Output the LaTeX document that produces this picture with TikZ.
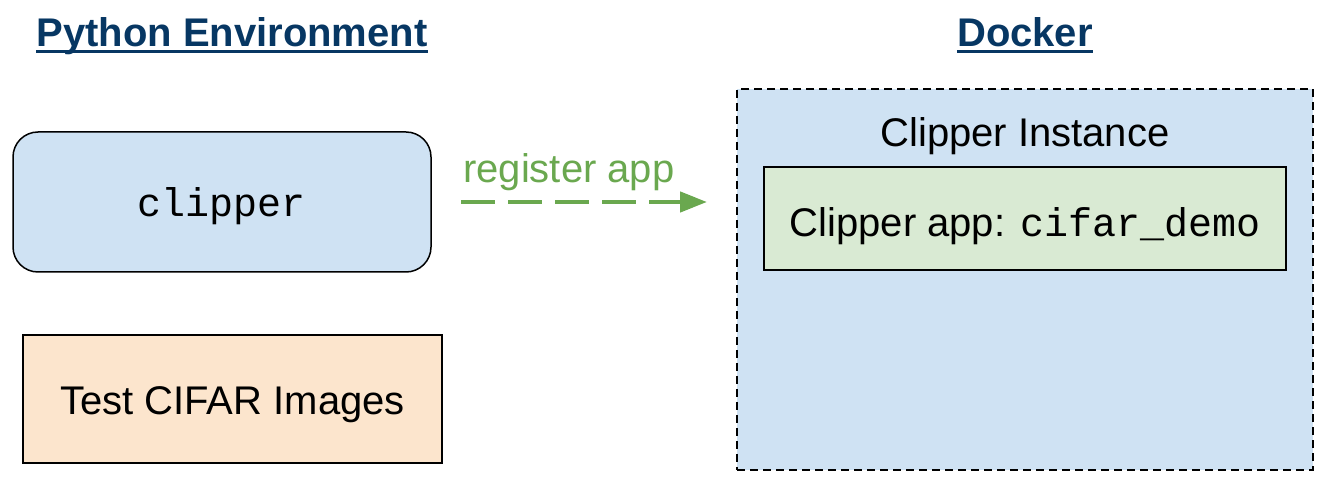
\documentclass[tikz,border=0pt]{standalone}
\usepackage{fontspec}
\setmainfont{Liberation Sans}
\setmonofont{Liberation Mono}
\usepackage{tikz}
\usetikzlibrary{arrows.meta}

\definecolor{titleblue}{HTML}{073763}
\definecolor{regreen}{HTML}{6AA84F}
\definecolor{boxblue}{HTML}{CFE2F3}
\definecolor{boxorange}{HTML}{FCE5CD}
\definecolor{boxgreen}{HTML}{D9EAD3}

\tikzset{
    bigtext/.style={font=\fontsize{40}{48}\selectfont},
    title/.style={bigtext, font=\fontsize{40}{48}\selectfont\bfseries, text=titleblue, inner sep=0pt},
    titleline/.style={draw=titleblue, line width=3pt},
    envbox/.style={bigtext, draw=black, line width=1.5pt, inner sep=0pt, text height=30pt, text depth=0pt},
    regarrow/.style={draw=regreen, line width=4.5pt, dash pattern=on 34pt off 13pt,
        -{Triangle[length=27pt, width=20pt]}},
}

\begin{document}
\begin{tikzpicture}[x=1pt, y=-1pt]
    \useasboundingbox (0,0) rectangle (1336,502);

    % Titles
    \node[title, anchor=base] (pytitle) at (232,47) {Python Environment};
    \node[title, anchor=base] (docktitle) at (1025,47) {Docker};
    \draw[titleline] ([yshift=-5pt]pytitle.base west) -- ([yshift=-5pt]pytitle.base east);
    \draw[titleline] ([yshift=-5pt]docktitle.base west) -- ([yshift=-5pt]docktitle.base east);

    % Python side
    \node[envbox, fill=boxblue, rounded corners=25pt, minimum width=418pt, minimum height=140pt]
        (clipbox) at (222,202) {\texttt{clipper}};
    \node[envbox, fill=boxorange, minimum width=419pt, minimum height=128pt]
        (imgbox) at (232.5,399) {Test CIFAR Images};

    % Docker side
    \node[draw=black, fill=boxblue, line width=2pt, dash pattern=on 8pt off 5pt,
        minimum width=576pt, minimum height=381pt] (dockbox) at (1025,279.5) {};
    \node[bigtext, anchor=base, inner sep=0pt] (instlabel) at (1025,147) {Clipper Instance};
    \node[envbox, line width=2pt, fill=boxgreen, text height=36pt, minimum width=522pt, minimum height=103pt]
        (appbox) at (1025,218.5) {Clipper app: \texttt{cifar\_demo}\hspace{10pt}};

    % Arrow
    \coordinate (regstart) at (461,202);
    \coordinate (regend) at (707,202);
    \draw[regarrow] (regstart) -- (regend);
    \node[bigtext, text=regreen, anchor=base west, inner sep=0pt] (reglabel) at (463,183) {register app};
\end{tikzpicture}
\end{document}
